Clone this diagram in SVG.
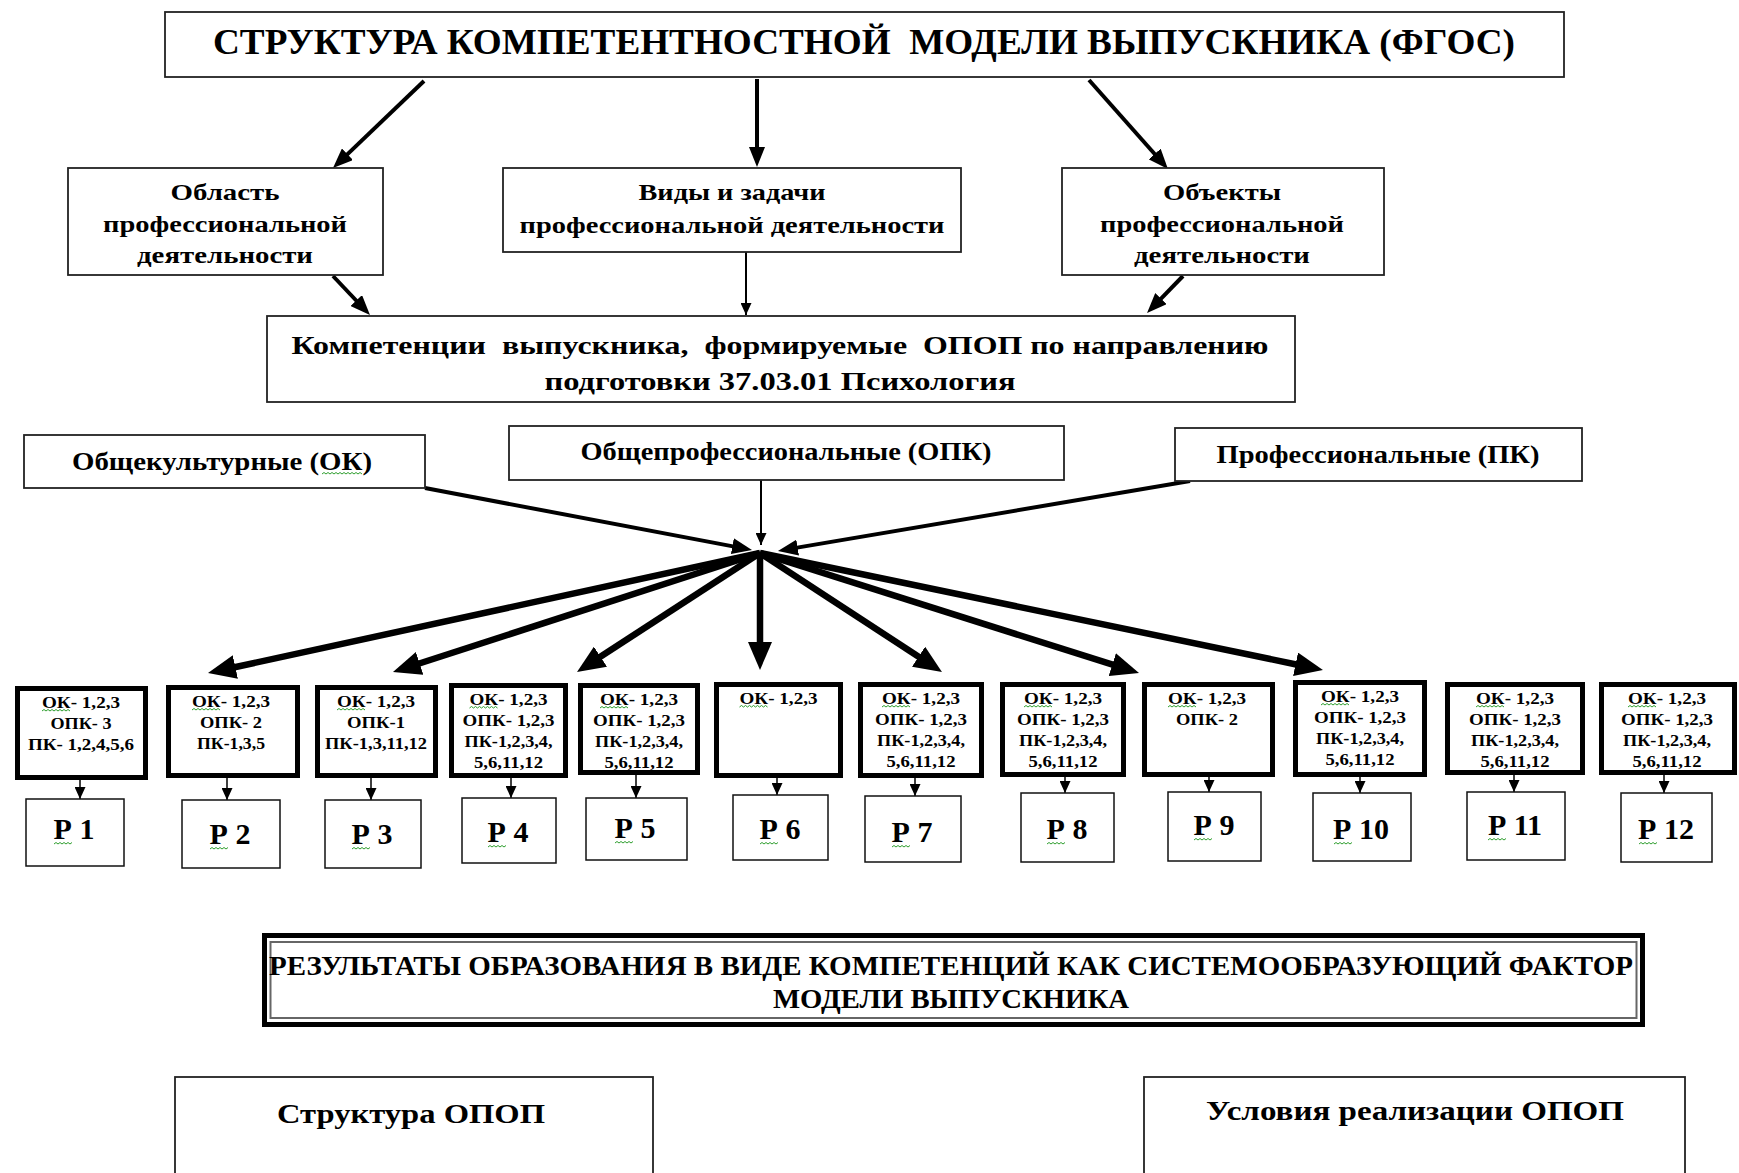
<svg xmlns="http://www.w3.org/2000/svg" xmlns:xlink="http://www.w3.org/1999/xlink" width="1739" height="1173" viewBox="0 0 1739 1173">
<style>
  text { font-family: "Liberation Serif", "Times New Roman", serif; font-weight: bold; fill: #000; text-anchor: middle; }
  .box { fill: #fff; stroke: #222; stroke-width: 1.8; }
  .tbox { fill: #fff; stroke: #000; stroke-width: 5; }
  .pbox { fill: #fff; stroke: #111; stroke-width: 1.5; }
  .c { fill: none; stroke: #000; stroke-linecap: butt; }
  .w6 { stroke-width: 6.5; }
  .w4 { stroke-width: 4; }
  .w2 { stroke-width: 2; }
  .w15 { stroke-width: 1.5; }
  .sq { fill: none; stroke: #2e9e2e; stroke-width: 1; }
  .s34 { font-size: 35px; }
  .s27 { font-size: 27px; }
  .s26 { font-size: 26px; }
  .s25 { font-size: 25px; }
  .s24 { font-size: 24px; }
  .s15 { font-size: 16.5px; }
  .s29 { font-size: 30px; }
</style>
<defs>
  <marker id="hd" markerUnits="userSpaceOnUse" markerWidth="28" markerHeight="24" viewBox="0 0 28 24" refX="2" refY="12" orient="auto"><path d="M0,0 L28,12 L0,24 z" fill="#000"/></marker>
  <marker id="md" markerUnits="userSpaceOnUse" markerWidth="20" markerHeight="16" viewBox="0 0 20 16" refX="2" refY="8" orient="auto"><path d="M0,0 L20,8 L0,16 z" fill="#000"/></marker>
  <marker id="th" markerUnits="userSpaceOnUse" markerWidth="12" markerHeight="11" viewBox="0 0 12 11" refX="12" refY="5.5" orient="auto"><path d="M0,0 L12,5.5 L0,11 z" fill="#000"/></marker>
  <path id="sq28" class="sq" d="M0,0 l2,-1.5 l2,1.5 l2,-1.5 l2,1.5 l2,-1.5 l2,1.5 l2,-1.5 l2,1.5 l2,-1.5 l2,1.5 l2,-1.5 l2,1.5 l2,-1.5 l2,1.5"/>
  <path id="sq18" class="sq" d="M0,0 l2,-1.5 l2,1.5 l2,-1.5 l2,1.5 l2,-1.5 l2,1.5 l2,-1.5 l2,1.5 l2,-1.5"/>
  <path id="sq40" class="sq" d="M0,0 l2,-1.5 l2,1.5 l2,-1.5 l2,1.5 l2,-1.5 l2,1.5 l2,-1.5 l2,1.5 l2,-1.5 l2,1.5 l2,-1.5 l2,1.5 l2,-1.5 l2,1.5 l2,-1.5 l2,1.5 l2,-1.5 l2,1.5 l2,-1.5 l2,1.5"/>
</defs>
<rect width="1739" height="1173" fill="#fff"/>

<g id="connectors">
  <line class="c w4" x1="424" y1="81" x2="346" y2="155.6" marker-end="url(#md)"/>
  <line class="c w4" x1="757" y1="79" x2="757" y2="149" marker-end="url(#md)"/>
  <line class="c w4" x1="1089" y1="80" x2="1156" y2="155.5" marker-end="url(#md)"/>
  <line class="c w4" x1="333" y1="276" x2="357.6" y2="302" marker-end="url(#md)"/>
  <line class="c w2" x1="746" y1="252" x2="746" y2="315" marker-end="url(#th)"/>
  <line class="c w4" x1="1183" y1="276" x2="1159.6" y2="300.1" marker-end="url(#md)"/>
  <line class="c w4" x1="425" y1="488" x2="734.3" y2="546.6" marker-end="url(#md)"/>
  <line class="c w2" x1="761" y1="480" x2="761" y2="545" marker-end="url(#th)"/>
  <line class="c w4" x1="1190" y1="481" x2="795.7" y2="547.9" marker-end="url(#md)"/>
  <line class="c w6" x1="760" y1="553" x2="233.4" y2="667.5" marker-end="url(#hd)"/>
  <line class="c w6" x1="760" y1="553" x2="417.7" y2="664" marker-end="url(#hd)"/>
  <line class="c w6" x1="760" y1="553" x2="598.8" y2="657.8" marker-end="url(#hd)"/>
  <line class="c w6" x1="760" y1="553" x2="760" y2="644" marker-end="url(#hd)"/>
  <line class="c w6" x1="760" y1="553" x2="920.2" y2="657.8" marker-end="url(#hd)"/>
  <line class="c w6" x1="760" y1="553" x2="1114.2" y2="665.2" marker-end="url(#hd)"/>
  <line class="c w6" x1="760" y1="553" x2="1297.5" y2="664.7" marker-end="url(#hd)"/>
  <line class="c w15" x1="80" y1="780" x2="80" y2="799" marker-end="url(#th)"/>
  <line class="c w15" x1="227" y1="778" x2="227" y2="800" marker-end="url(#th)"/>
  <line class="c w15" x1="371" y1="778" x2="371" y2="800" marker-end="url(#th)"/>
  <line class="c w15" x1="511" y1="778" x2="511" y2="798" marker-end="url(#th)"/>
  <line class="c w15" x1="636" y1="775" x2="636" y2="798" marker-end="url(#th)"/>
  <line class="c w15" x1="777" y1="778" x2="777" y2="795" marker-end="url(#th)"/>
  <line class="c w15" x1="915" y1="778" x2="915" y2="796" marker-end="url(#th)"/>
  <line class="c w15" x1="1065" y1="777" x2="1065" y2="793" marker-end="url(#th)"/>
  <line class="c w15" x1="1209" y1="777" x2="1209" y2="792" marker-end="url(#th)"/>
  <line class="c w15" x1="1360" y1="777" x2="1360" y2="793" marker-end="url(#th)"/>
  <line class="c w15" x1="1514" y1="775" x2="1514" y2="792" marker-end="url(#th)"/>
  <line class="c w15" x1="1664" y1="775" x2="1664" y2="793" marker-end="url(#th)"/>
</g>

<g id="title">
  <rect class="box" x="165" y="12" width="1399" height="65"/>
  <text class="s34" x="864" y="54" textLength="1302" lengthAdjust="spacingAndGlyphs" xml:space="preserve">СТРУКТУРА КОМПЕТЕНТНОСТНОЙ  МОДЕЛИ ВЫПУСКНИКА (ФГОС)</text>
</g>

<g id="oblast">
  <rect class="box" x="68" y="168" width="315" height="107"/>
  <text class="s24" x="225" y="200" textLength="109" lengthAdjust="spacingAndGlyphs">Область</text>
  <text class="s24" x="225" y="232" textLength="244" lengthAdjust="spacingAndGlyphs">профессиональной</text>
  <text class="s24" x="225" y="263" textLength="176" lengthAdjust="spacingAndGlyphs">деятельности</text>
</g>

<g id="vidy">
  <rect class="box" x="503" y="168" width="458" height="84"/>
  <text class="s24" x="732" y="200" textLength="187" lengthAdjust="spacingAndGlyphs">Виды и задачи</text>
  <text class="s24" x="732" y="233" textLength="425" lengthAdjust="spacingAndGlyphs">профессиональной деятельности</text>
</g>

<g id="obekty">
  <rect class="box" x="1062" y="168" width="322" height="107"/>
  <text class="s24" x="1222" y="200" textLength="118" lengthAdjust="spacingAndGlyphs">Объекты</text>
  <text class="s24" x="1222" y="232" textLength="244" lengthAdjust="spacingAndGlyphs">профессиональной</text>
  <text class="s24" x="1222" y="263" textLength="176" lengthAdjust="spacingAndGlyphs">деятельности</text>
</g>

<g id="kompetencii">
  <rect class="box" x="267" y="316" width="1028" height="86"/>
  <text class="s26" x="780" y="354" textLength="977" lengthAdjust="spacingAndGlyphs" xml:space="preserve">Компетенции  выпускника,  формируемые  ОПОП по направлению</text>
  <text class="s26" x="780" y="390" textLength="471" lengthAdjust="spacingAndGlyphs">подготовки 37.03.01 Психология</text>
</g>

<g id="ok">
  <rect class="box" x="24" y="435" width="401" height="53"/>
  <text class="s25" x="222" y="470" textLength="300" lengthAdjust="spacingAndGlyphs">Общекультурные (ОК)</text>
  <use xlink:href="#sq40" x="322" y="474"/>
</g>

<g id="opk">
  <rect class="box" x="509" y="426" width="555" height="54"/>
  <text class="s25" x="786" y="460" textLength="411" lengthAdjust="spacingAndGlyphs">Общепрофессиональные (ОПК)</text>
</g>

<g id="pk">
  <rect class="box" x="1175" y="428" width="407" height="53"/>
  <text class="s25" x="1378" y="463" textLength="323" lengthAdjust="spacingAndGlyphs">Профессиональные (ПК)</text>
</g>

<g id="k1">
  <rect class="tbox" x="17.5" y="688.5" width="128" height="89"/>
  <text class="s15" x="81" y="708" textLength="78" lengthAdjust="spacingAndGlyphs">ОК- 1,2,3</text>
  <text class="s15" x="81" y="729" textLength="61" lengthAdjust="spacingAndGlyphs">ОПК- 3</text>
  <text class="s15" x="81" y="750" textLength="106" lengthAdjust="spacingAndGlyphs">ПК- 1,2,4,5,6</text>
  <use xlink:href="#sq28" x="42" y="711"/>
</g>
<g id="k2">
  <rect class="tbox" x="168.5" y="687.5" width="129" height="88"/>
  <text class="s15" x="231" y="707" textLength="78" lengthAdjust="spacingAndGlyphs">ОК- 1,2,3</text>
  <text class="s15" x="231" y="728" textLength="62" lengthAdjust="spacingAndGlyphs">ОПК- 2</text>
  <text class="s15" x="231" y="749" textLength="68" lengthAdjust="spacingAndGlyphs">ПК-1,3,5</text>
  <use xlink:href="#sq28" x="192" y="710"/>
</g>
<g id="k3">
  <rect class="tbox" x="317.5" y="687.5" width="118" height="88"/>
  <text class="s15" x="376" y="707" textLength="78" lengthAdjust="spacingAndGlyphs">ОК- 1,2,3</text>
  <text class="s15" x="376" y="728" textLength="58" lengthAdjust="spacingAndGlyphs">ОПК-1</text>
  <text class="s15" x="376" y="749" textLength="102" lengthAdjust="spacingAndGlyphs">ПК-1,3,11,12</text>
  <use xlink:href="#sq28" x="337" y="710"/>
</g>
<g id="k4">
  <rect class="tbox" x="451.5" y="685.5" width="114" height="90"/>
  <text class="s15" x="508.5" y="705" textLength="78" lengthAdjust="spacingAndGlyphs">ОК- 1,2,3</text>
  <text class="s15" x="508.5" y="726" textLength="92" lengthAdjust="spacingAndGlyphs">ОПК- 1,2,3</text>
  <text class="s15" x="508.5" y="747" textLength="88" lengthAdjust="spacingAndGlyphs">ПК-1,2,3,4,</text>
  <text class="s15" x="508.5" y="768" textLength="69" lengthAdjust="spacingAndGlyphs">5,6,11,12</text>
  <use xlink:href="#sq28" x="469.5" y="708"/>
</g>
<g id="k5">
  <rect class="tbox" x="580.5" y="685.5" width="117" height="87"/>
  <text class="s15" x="639" y="705" textLength="78" lengthAdjust="spacingAndGlyphs">ОК- 1,2,3</text>
  <text class="s15" x="639" y="726" textLength="92" lengthAdjust="spacingAndGlyphs">ОПК- 1,2,3</text>
  <text class="s15" x="639" y="747" textLength="88" lengthAdjust="spacingAndGlyphs">ПК-1,2,3,4,</text>
  <text class="s15" x="639" y="768" textLength="69" lengthAdjust="spacingAndGlyphs">5,6,11,12</text>
  <use xlink:href="#sq28" x="600" y="708"/>
</g>
<g id="k6">
  <rect class="tbox" x="716.5" y="684.5" width="124" height="91"/>
  <text class="s15" x="778.5" y="704" textLength="78" lengthAdjust="spacingAndGlyphs">ОК- 1,2,3</text>
  <use xlink:href="#sq28" x="739.5" y="707"/>
</g>
<g id="k7">
  <rect class="tbox" x="860.5" y="684.5" width="121" height="91"/>
  <text class="s15" x="921" y="704" textLength="78" lengthAdjust="spacingAndGlyphs">ОК- 1,2,3</text>
  <text class="s15" x="921" y="725" textLength="92" lengthAdjust="spacingAndGlyphs">ОПК- 1,2,3</text>
  <text class="s15" x="921" y="746" textLength="88" lengthAdjust="spacingAndGlyphs">ПК-1,2,3,4,</text>
  <text class="s15" x="921" y="767" textLength="69" lengthAdjust="spacingAndGlyphs">5,6,11,12</text>
  <use xlink:href="#sq28" x="882" y="707"/>
</g>
<g id="k8">
  <rect class="tbox" x="1002.5" y="684.5" width="121" height="90"/>
  <text class="s15" x="1063" y="704" textLength="78" lengthAdjust="spacingAndGlyphs">ОК- 1,2,3</text>
  <text class="s15" x="1063" y="725" textLength="92" lengthAdjust="spacingAndGlyphs">ОПК- 1,2,3</text>
  <text class="s15" x="1063" y="746" textLength="88" lengthAdjust="spacingAndGlyphs">ПК-1,2,3,4,</text>
  <text class="s15" x="1063" y="767" textLength="69" lengthAdjust="spacingAndGlyphs">5,6,11,12</text>
  <use xlink:href="#sq28" x="1024" y="707"/>
</g>
<g id="k9">
  <rect class="tbox" x="1144.5" y="684.5" width="128" height="90"/>
  <text class="s15" x="1207" y="704" textLength="78" lengthAdjust="spacingAndGlyphs">ОК- 1,2,3</text>
  <text class="s15" x="1207" y="725" textLength="62" lengthAdjust="spacingAndGlyphs">ОПК- 2</text>
  <use xlink:href="#sq28" x="1168" y="707"/>
</g>
<g id="k10">
  <rect class="tbox" x="1295.5" y="682.5" width="129" height="92"/>
  <text class="s15" x="1360" y="702" textLength="78" lengthAdjust="spacingAndGlyphs">ОК- 1,2,3</text>
  <text class="s15" x="1360" y="723" textLength="92" lengthAdjust="spacingAndGlyphs">ОПК- 1,2,3</text>
  <text class="s15" x="1360" y="744" textLength="88" lengthAdjust="spacingAndGlyphs">ПК-1,2,3,4,</text>
  <text class="s15" x="1360" y="765" textLength="69" lengthAdjust="spacingAndGlyphs">5,6,11,12</text>
  <use xlink:href="#sq28" x="1321" y="705"/>
</g>
<g id="k11">
  <rect class="tbox" x="1447.5" y="684.5" width="135" height="88"/>
  <text class="s15" x="1515" y="704" textLength="78" lengthAdjust="spacingAndGlyphs">ОК- 1,2,3</text>
  <text class="s15" x="1515" y="725" textLength="92" lengthAdjust="spacingAndGlyphs">ОПК- 1,2,3</text>
  <text class="s15" x="1515" y="746" textLength="88" lengthAdjust="spacingAndGlyphs">ПК-1,2,3,4,</text>
  <text class="s15" x="1515" y="767" textLength="69" lengthAdjust="spacingAndGlyphs">5,6,11,12</text>
  <use xlink:href="#sq28" x="1476" y="707"/>
</g>
<g id="k12">
  <rect class="tbox" x="1601.5" y="684.5" width="133" height="88"/>
  <text class="s15" x="1667" y="704" textLength="78" lengthAdjust="spacingAndGlyphs">ОК- 1,2,3</text>
  <text class="s15" x="1667" y="725" textLength="92" lengthAdjust="spacingAndGlyphs">ОПК- 1,2,3</text>
  <text class="s15" x="1667" y="746" textLength="88" lengthAdjust="spacingAndGlyphs">ПК-1,2,3,4,</text>
  <text class="s15" x="1667" y="767" textLength="69" lengthAdjust="spacingAndGlyphs">5,6,11,12</text>
  <use xlink:href="#sq28" x="1628" y="707"/>
</g>

<g id="p1"><rect class="pbox" x="26" y="799" width="98" height="67"/><text class="s29" x="74" y="839">Р 1</text><use xlink:href="#sq18" x="54" y="844"/></g>
<g id="p2"><rect class="pbox" x="182" y="800" width="98" height="68"/><text class="s29" x="230" y="844">Р 2</text><use xlink:href="#sq18" x="210" y="849"/></g>
<g id="p3"><rect class="pbox" x="325" y="800" width="96" height="68"/><text class="s29" x="372" y="844">Р 3</text><use xlink:href="#sq18" x="352" y="849"/></g>
<g id="p4"><rect class="pbox" x="462" y="798" width="94" height="65"/><text class="s29" x="508" y="842">Р 4</text><use xlink:href="#sq18" x="488" y="847"/></g>
<g id="p5"><rect class="pbox" x="586" y="798" width="101" height="62"/><text class="s29" x="635" y="838">Р 5</text><use xlink:href="#sq18" x="615" y="843"/></g>
<g id="p6"><rect class="pbox" x="733" y="795" width="95" height="65"/><text class="s29" x="780" y="839">Р 6</text><use xlink:href="#sq18" x="760" y="844"/></g>
<g id="p7"><rect class="pbox" x="865" y="796" width="96" height="66"/><text class="s29" x="912" y="842">Р 7</text><use xlink:href="#sq18" x="892" y="847"/></g>
<g id="p8"><rect class="pbox" x="1021" y="793" width="93" height="69"/><text class="s29" x="1067" y="839">Р 8</text><use xlink:href="#sq18" x="1047" y="844"/></g>
<g id="p9"><rect class="pbox" x="1168" y="792" width="93" height="69"/><text class="s29" x="1214" y="835">Р 9</text><use xlink:href="#sq18" x="1194" y="840"/></g>
<g id="p10"><rect class="pbox" x="1313" y="793" width="98" height="68"/><text class="s29" x="1361" y="839">Р 10</text><use xlink:href="#sq18" x="1334" y="844"/></g>
<g id="p11"><rect class="pbox" x="1467" y="792" width="98" height="68"/><text class="s29" x="1515" y="835">Р 11</text><use xlink:href="#sq18" x="1488" y="840"/></g>
<g id="p12"><rect class="pbox" x="1621" y="793" width="91" height="69"/><text class="s29" x="1666" y="839">Р 12</text><use xlink:href="#sq18" x="1639" y="844"/></g>

<g id="results">
  <rect x="264.5" y="935.5" width="1378" height="89" fill="#fff" stroke="#000" stroke-width="5"/>
  <rect x="270.5" y="942" width="1366" height="76" fill="none" stroke="#666" stroke-width="2"/>
  <text class="s27" x="951" y="975" textLength="1364" lengthAdjust="spacingAndGlyphs">РЕЗУЛЬТАТЫ ОБРАЗОВАНИЯ В ВИДЕ КОМПЕТЕНЦИЙ КАК СИСТЕМООБРАЗУЮЩИЙ ФАКТОР</text>
  <text class="s27" x="951" y="1008" textLength="356" lengthAdjust="spacingAndGlyphs">МОДЕЛИ ВЫПУСКНИКА</text>
</g>

<g id="struktura">
  <rect class="box" x="175" y="1077" width="478" height="120"/>
  <text class="s27" x="411" y="1123" textLength="268" lengthAdjust="spacingAndGlyphs">Структура ОПОП</text>
</g>

<g id="usloviya">
  <rect class="box" x="1144" y="1077" width="541" height="120"/>
  <text class="s27" x="1415" y="1120" textLength="418" lengthAdjust="spacingAndGlyphs">Условия реализации ОПОП</text>
</g>
</svg>
